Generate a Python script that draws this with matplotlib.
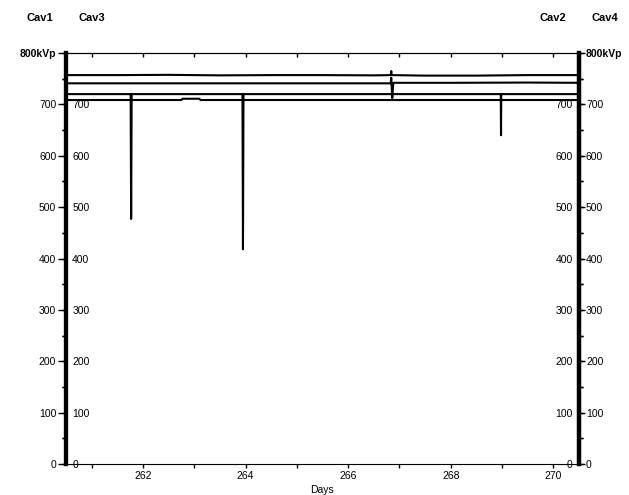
import matplotlib.pyplot as plt
from matplotlib.ticker import MultipleLocator

plt.rcParams['font.family'] = ['Liberation Sans', 'DejaVu Sans']
plt.rcParams['font.size'] = 7.5

# Cavity voltages (kVp) against time (days)
cav1_days = [260.5, 261.5, 262.5, 263.5, 264.5, 265.5, 266.5, 266.83, 266.84, 266.85,
             267.5, 268.5, 269.5, 270.5]
cav1_kvp = [757, 757, 757.5, 756.5, 757, 757, 756.5, 757, 765, 757,
            756, 756, 757, 757]

cav2_days = [260.5, 262.0, 263.5, 265.0, 266.83, 266.84, 266.86, 266.88, 268.0, 269.5, 270.5]
cav2_kvp = [741, 741, 741, 741, 741, 752, 712, 742, 742, 742.5, 742]

cav3_days = [260.5, 261.76, 261.77, 261.78, 263.94, 263.95, 263.96,
             268.975, 268.98, 268.985, 270.5]
cav3_kvp = [720, 720, 477, 720, 720, 418, 720,
            720, 640, 720, 720]

cav4_days = [260.5, 262.75, 262.77, 263.1, 263.12, 270.5]
cav4_kvp = [708.5, 708.5, 711, 711, 708.5, 708.5]

kvp_ticks = [0, 100, 200, 300, 400, 500, 600, 700, 800]
outer_labels = ['0', '100', '200', '300', '400', '500', '600', '700', '800kVp']
inner_labels = ['0', '100', '200', '300', '400', '500', '600', '700', '']
day_ticks = [262, 264, 266, 268, 270]

fig = plt.figure(figsize=(6.29, 4.95), dpi=100)
ax = fig.add_axes([0.1049, 0.0626, 0.8156, 0.8303])

for d, v in [(cav1_days, cav1_kvp), (cav2_days, cav2_kvp),
             (cav3_days, cav3_kvp), (cav4_days, cav4_kvp)]:
    ax.plot(d, v, color='black', linewidth=1.5)

ax.set_xlim(260.5, 270.5)
ax.set_ylim(0, 800)

# extra y axes: Cav3 inside left, Cav2 inside right, Cav4 outside right
ax_cav3 = ax.twinx()
ax_cav2 = ax.twinx()
ax_cav4 = ax.twinx()

ax_cav3.spines['right'].set_position(('axes', 0))
ax_cav2.yaxis.tick_left()
ax_cav2.yaxis.set_label_position('left')
ax_cav2.spines['left'].set_position(('axes', 1))

for a in (ax_cav3, ax_cav2, ax_cav4):
    a.set_ylim(0, 800)
    for s in a.spines.values():
        s.set_visible(False)
ax_cav3.spines['right'].set_visible(True)
ax_cav2.spines['left'].set_visible(True)
ax_cav4.spines['right'].set_visible(True)

for a in (ax, ax_cav3, ax_cav2, ax_cav4):
    a.set_yticks(kvp_ticks)
    a.yaxis.set_minor_locator(MultipleLocator(50))

ax.set_yticklabels(outer_labels)
ax_cav4.set_yticklabels(outer_labels)
ax_cav3.set_yticklabels(inner_labels)
ax_cav2.set_yticklabels(inner_labels)
ax.get_yticklabels()[-1].set_fontweight('bold')
ax_cav4.get_yticklabels()[-1].set_fontweight('bold')

ax.tick_params(axis='y', which='major', left=True, right=False, labelleft=True,
               labelright=False, direction='out', length=6, width=1, pad=1)
ax.tick_params(axis='y', which='minor', left=True, right=False, direction='out',
               length=3, width=1)
ax_cav4.tick_params(axis='y', which='major', direction='out', length=4, width=1, pad=1)
ax_cav4.tick_params(axis='y', which='minor', direction='out', length=3, width=1)
for a in (ax_cav3, ax_cav2):
    a.tick_params(axis='y', which='major', direction='in', length=3, width=1, pad=4.5)
    a.tick_params(axis='y', which='minor', direction='in', length=3, width=1)

for s in ('left', 'right'):
    ax.spines[s].set_linewidth(3)
ax_cav3.spines['right'].set_linewidth(3)
ax_cav2.spines['left'].set_linewidth(3)
ax_cav4.spines['right'].set_linewidth(3)

# x axis
ax.set_xticks(day_ticks)
ax.xaxis.set_minor_locator(MultipleLocator(1))
ax.tick_params(axis='x', which='both', direction='out', length=3, width=1, pad=2)
top = ax.secondary_xaxis('top')
top.set_xticks(range(261, 271))
top.tick_params(axis='x', direction='in', length=3, width=1, labeltop=False)
ax.set_xlabel('Days', labelpad=3)

# axis names
for a, name, x in [(ax, 'Cav1', -0.0507), (ax_cav3, 'Cav3', 0.0507),
                   (ax_cav2, 'Cav2', 0.949), (ax_cav4, 'Cav4', 1.0507)]:
    a.set_ylabel(name, rotation=0, fontweight='bold', fontsize=8, ha='center', va='center')
    a.yaxis.set_label_coords(x, 1.085)

fig.savefig('out.png', dpi=100)
